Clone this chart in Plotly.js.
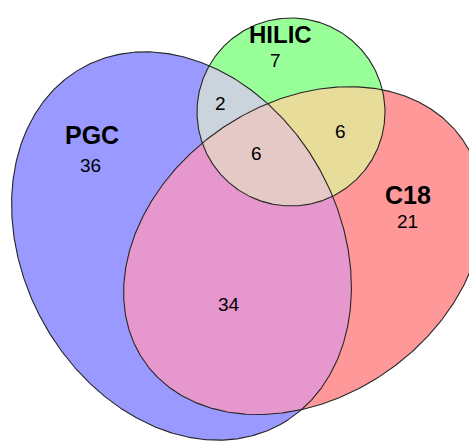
<!DOCTYPE html>
<html>
<head>
<meta charset="utf-8">
<script src="https://cdn.plot.ly/plotly-3.0.1.min.js"></script>
<style>html,body{margin:0;padding:0;background:#fff;}#chart{width:469px;height:441px;}</style>
</head>
<body>
<div id="chart"></div>
<script>
// ---- data ----
const setNames = ['PGC', 'HILIC', 'C18'];
const regionKeys = ['PGC', 'HILIC', 'C18', 'PGC&HILIC', 'PGC&C18', 'HILIC&C18', 'PGC&HILIC&C18'];
const regionCounts = [36, 7, 21, 2, 34, 6, 6];

// ---- geometry / style (layout, not data) ----
const shapes = {
  PGC:   {cx: 181.5, cy: 246, a: 204, b: 158, angle: 61},
  C18:   {cx: 303.5, cy: 250.6, a: 194, b: 147, angle: -35},
  HILIC: {cx: 291,   cy: 112,   a: 94,  b: 94,  angle: 0}
};
const regionColors = {
  'PGC': '#9999ff', 'HILIC': '#99ff99', 'C18': '#ff9999',
  'PGC&HILIC': '#cbd3dd', 'PGC&C18': '#e697cd', 'HILIC&C18': '#e8dc9a',
  'PGC&HILIC&C18': '#e4c9c6'
};
const namePos = {PGC: [91.5, 135], HILIC: [280, 34.5], C18: [407.5, 195]};
const nameSize = {PGC: 25, HILIC: 24, C18: 25};
const countPos = {
  'PGC': [90.5, 165], 'HILIC': [275, 60.5], 'C18': [407.5, 221.5],
  'PGC&HILIC': [220.5, 103], 'PGC&C18': [228.5, 304], 'HILIC&C18': [340.5, 131],
  'PGC&HILIC&C18': [256, 153]
};

function ellipsePoly(s, n) {
  const phi = s.angle * Math.PI / 180, c = Math.cos(phi), sn = Math.sin(phi);
  const pts = [];
  for (let i = 0; i < n; i++) {
    const t = 2 * Math.PI * i / n;
    const ex = s.a * Math.cos(t), ey = s.b * Math.sin(t);
    pts.push([s.cx + ex * c - ey * sn, s.cy + ex * sn + ey * c]);
  }
  return pts;
}
function area(p) { let s = 0; for (let i = 0; i < p.length; i++) { const a = p[i], b = p[(i + 1) % p.length]; s += a[0] * b[1] - b[0] * a[1]; } return s / 2; }
function clip(subject, clipPoly) {
  const sgn = area(clipPoly) > 0 ? 1 : -1;
  let out = subject.slice();
  for (let i = 0; i < clipPoly.length && out.length; i++) {
    const A = clipPoly[i], B = clipPoly[(i + 1) % clipPoly.length];
    const inside = P => sgn * ((B[0] - A[0]) * (P[1] - A[1]) - (B[1] - A[1]) * (P[0] - A[0])) >= 0;
    const inter = (S, P) => {
      const dx = P[0] - S[0], dy = P[1] - S[1];
      const ex = B[0] - A[0], ey = B[1] - A[1];
      const den = dx * ey - dy * ex;
      const t = ((A[0] - S[0]) * ey - (A[1] - S[1]) * ex) / den;
      return [S[0] + t * dx, S[1] + t * dy];
    };
    const input = out; out = [];
    for (let j = 0; j < input.length; j++) {
      const P = input[j], S = input[(j - 1 + input.length) % input.length];
      if (inside(P)) { if (!inside(S)) out.push(inter(S, P)); out.push(P); }
      else if (inside(S)) out.push(inter(S, P));
    }
  }
  return out;
}

const polys = {};
setNames.forEach(n => polys[n] = ellipsePoly(shapes[n], 720));
const regionPolys = {
  'PGC': polys.PGC, 'C18': polys.C18, 'HILIC': polys.HILIC,
  'PGC&C18': clip(polys.PGC, polys.C18),
  'PGC&HILIC': clip(polys.PGC, polys.HILIC),
  'HILIC&C18': clip(polys.HILIC, polys.C18),
};
regionPolys['PGC&HILIC&C18'] = clip(regionPolys['PGC&C18'], polys.HILIC);

const drawOrder = ['PGC', 'C18', 'HILIC', 'PGC&C18', 'PGC&HILIC', 'HILIC&C18', 'PGC&HILIC&C18'];
const traces = [];
drawOrder.forEach(k => {
  const p = regionPolys[k];
  traces.push({
    type: 'scatter', mode: 'lines', fill: 'toself', fillcolor: regionColors[k],
    x: p.map(q => q[0]).concat([p[0][0]]), y: p.map(q => q[1]).concat([p[0][1]]),
    line: {width: 0, color: regionColors[k]}, hoverinfo: 'skip'
  });
});
setNames.forEach(n => {
  const p = polys[n];
  traces.push({
    type: 'scatter', mode: 'lines',
    x: p.map(q => q[0]).concat([p[0][0]]), y: p.map(q => q[1]).concat([p[0][1]]),
    line: {width: 1.1, color: '#262626'}, hoverinfo: 'skip'
  });
});

const annotations = [];
setNames.forEach(n => annotations.push({
  x: namePos[n][0], y: namePos[n][1], xref: 'x', yref: 'y', text: '<b>' + n + '</b>', showarrow: false,
  xanchor: 'center', yanchor: 'middle', font: {family: 'Liberation Sans, Arial, sans-serif', size: nameSize[n], color: '#000'}
}));
regionKeys.forEach((k, i) => annotations.push({
  x: countPos[k][0], y: countPos[k][1], xref: 'x', yref: 'y', text: String(regionCounts[i]), showarrow: false,
  xanchor: 'center', yanchor: 'middle', font: {family: 'Liberation Sans, Arial, sans-serif', size: 19, color: '#000'}
}));

Plotly.newPlot('chart', traces, {
  width: 469, height: 441, margin: {l: 0, r: 0, t: 0, b: 0},
  paper_bgcolor: '#fff', plot_bgcolor: '#fff', showlegend: false,
  xaxis: {range: [0, 469], visible: false, fixedrange: true},
  yaxis: {range: [441, 0], visible: false, fixedrange: true},
  annotations: annotations
}, {staticPlot: true, displayModeBar: false});
</script>
</body>
</html>
